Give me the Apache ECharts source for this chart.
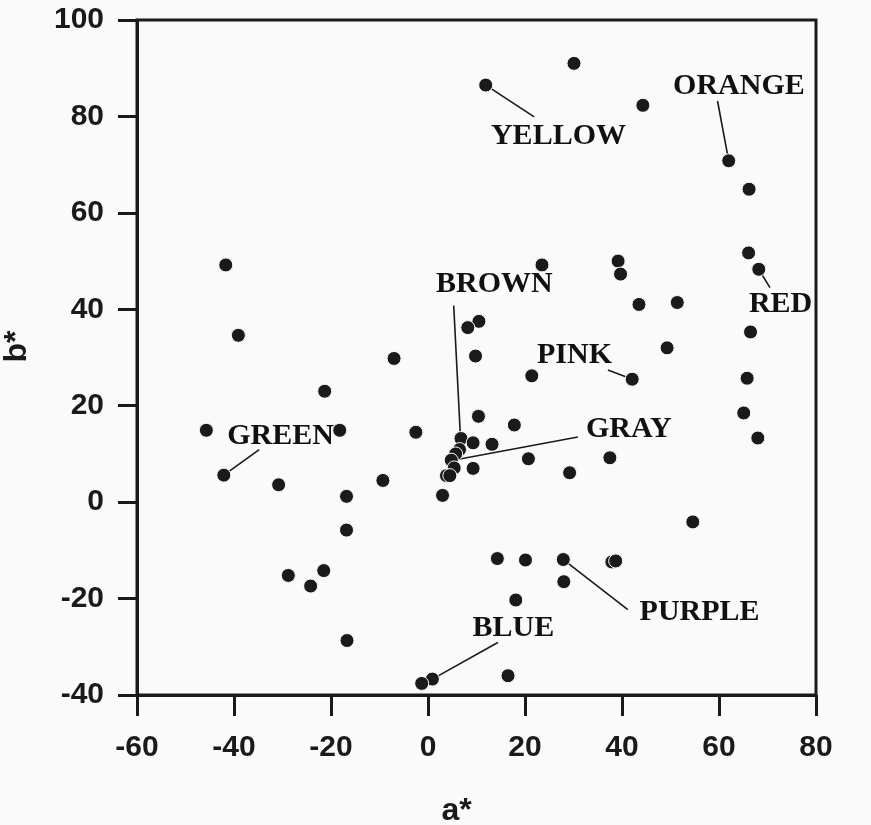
<!DOCTYPE html>
<html>
<head>
<meta charset="utf-8">
<script src="https://cdn.jsdelivr.net/npm/echarts@6/dist/echarts.min.js"></script>
<style>
  html, body { margin: 0; padding: 0; background: #fafafa; }
  #chart { width: 871px; height: 825px; }
</style>
</head>
<body>
<div id="chart"></div>
<script>
// CIELAB chromaticity of the colour samples (a*, b*)
const aStar = [
  11.9, 30.1, 44.3, 62.0, 66.2, 66.1, 68.2, 23.5, 39.2, 39.7,
  43.5, 51.4, 66.5, 49.3, -41.7, -39.1, 10.5, 8.2, 9.8, -7.0,
  -21.3, 10.4, -45.7, -18.2, -2.5, 6.8, 9.3, 13.2, 6.5, 5.7,
  4.8, 5.4, 9.3, 3.8, 4.5, -42.1, -30.8, -9.3, -16.8, 3.0,
  -16.8, -21.5, -28.8, -24.2, -16.7, 0.9, -1.3, 17.8, 20.7, 21.4,
  42.1, 65.8, 65.1, 68.0, 37.5, 29.2, 54.6, 14.3, 20.1, 27.9,
  37.9, 38.7, 28.0, 18.1, 16.5
];
const bStar = [
  86.5, 91.0, 82.3, 70.8, 64.9, 51.7, 48.3, 49.2, 50.0, 47.3,
  41.0, 41.4, 35.3, 32.0, 49.2, 34.6, 37.5, 36.2, 30.3, 29.8,
  23.0, 17.8, 14.9, 14.9, 14.5, 13.2, 12.3, 12.0, 10.9, 10.0,
  8.7, 7.1, 7.0, 5.5, 5.5, 5.6, 3.6, 4.5, 1.2, 1.4,
  -5.8, -14.2, -15.2, -17.4, -28.7, -36.7, -37.6, 16.0, 9.0, 26.2,
  25.5, 25.7, 18.5, 13.3, 9.2, 6.1, -4.1, -11.7, -12.0, -11.9,
  -12.4, -12.2, -16.5, -20.3, -36.0
];

// Colour-name annotations: text anchor and leader line (from -> to), in a*/b* units
const labelNames = ['YELLOW', 'ORANGE', 'RED', 'BROWN', 'PINK', 'GRAY', 'GREEN', 'BLUE', 'PURPLE'];
const labelA     = [26.9, 64.1, 72.7, 13.7, 30.2, 41.4, -30.4, 17.6, 56.0];
const labelB     = [75.9, 86.3, 41.1, 45.2, 30.5, 15.1, 13.7, -26.1, -22.8];
const leaderFromA = [11.9, 59.7, 68.2, 5.3, 37.1, 30.9, -34.8, 14.4, 27.9];
const leaderFromB = [86.5, 83.2, 48.3, 40.8, 27.4, 13.5, 10.9, -29.1, -11.9];
const leaderToA   = [21.9, 62.0, 70.5, 6.7, 42.1, 5.2, -42.1, 0.9, 41.2];
const leaderToB   = [79.9, 70.8, 44.5, 13.3, 25.5, 8.7, 5.6, -36.7, -22.3];

// Axis ticks
const xTicks = { min: -60, max: 80, step: 20 };
const yTicks = { min: -40, max: 100, step: 20 };

const ink = '#1a1a1a';
const points = aStar.map((a, i) => [a, bStar[i]]);
const labelPoints = labelNames.map((n, i) => ({ name: n, value: [labelA[i], labelB[i]] }));
const leaders = labelNames.map((n, i) => [
  { coord: [leaderFromA[i], leaderFromB[i]] },
  { coord: [leaderToA[i], leaderToB[i]] }
]);

const chart = echarts.init(document.getElementById('chart'), null, { renderer: 'canvas' });
const axisLabelStyle = {
  color: ink, fontFamily: 'Liberation Sans, Arial, sans-serif',
  fontWeight: 'bold', fontSize: 30
};
chart.setOption({
  animation: false,
  backgroundColor: '#fafafa',
  grid: { left: 137, right: 55, top: 20, bottom: 130, show: true,
          containLabel: false, outerBoundsMode: 'none',
          borderColor: ink, borderWidth: 3, backgroundColor: 'transparent' },
  xAxis: {
    type: 'value', min: xTicks.min, max: xTicks.max, interval: xTicks.step,
    name: 'a*', nameLocation: 'middle', nameGap: 100,
    nameTextStyle: { color: ink, fontFamily: 'Liberation Sans, Arial, sans-serif',
                     fontWeight: 'bold', fontSize: 32, padding: [0, 40, 0, 0] },
    axisLine: { show: true, onZero: false, lineStyle: { color: ink, width: 3 } },
    axisTick: { show: true, inside: false, length: 21, lineStyle: { color: ink, width: 3 } },
    axisLabel: Object.assign({ margin: 38 }, axisLabelStyle),
    splitLine: { show: false }
  },
  yAxis: {
    type: 'value', min: yTicks.min, max: yTicks.max, interval: yTicks.step,
    name: 'b*', nameLocation: 'middle', nameGap: 104,
    nameTextStyle: { color: ink, fontFamily: 'Liberation Sans, Arial, sans-serif',
                     fontWeight: 'bold', fontSize: 32, padding: [0, 0, 0, 22] },
    axisLine: { show: true, onZero: false, lineStyle: { color: ink, width: 3 } },
    axisTick: { show: true, inside: false, length: 19, lineStyle: { color: ink, width: 3 } },
    axisLabel: Object.assign({ margin: 33 }, axisLabelStyle),
    splitLine: { show: false }
  },
  series: [
    {
      type: 'scatter',
      data: points,
      symbol: 'circle',
      symbolSize: 14,
      itemStyle: { color: ink, borderColor: '#fafafa', borderWidth: 1, opacity: 1 },
      markLine: {
        silent: true,
        symbol: ['none', 'none'],
        label: { show: false },
        lineStyle: { color: ink, width: 1.6, type: 'solid', opacity: 1 },
        data: leaders,
        z: 1
      },
      z: 3
    },
    {
      type: 'scatter',
      data: labelPoints,
      symbolSize: 1,
      itemStyle: { color: '#fafafa', opacity: 1 },
      label: {
        show: true, position: 'inside', formatter: '{b}',
        color: '#111', opacity: 1, textBorderWidth: 0,
        fontFamily: 'Liberation Serif, Times New Roman, serif',
        fontWeight: 'bold', fontSize: 30
      },
      z: 4
    }
  ]
});
</script>
</body>
</html>
